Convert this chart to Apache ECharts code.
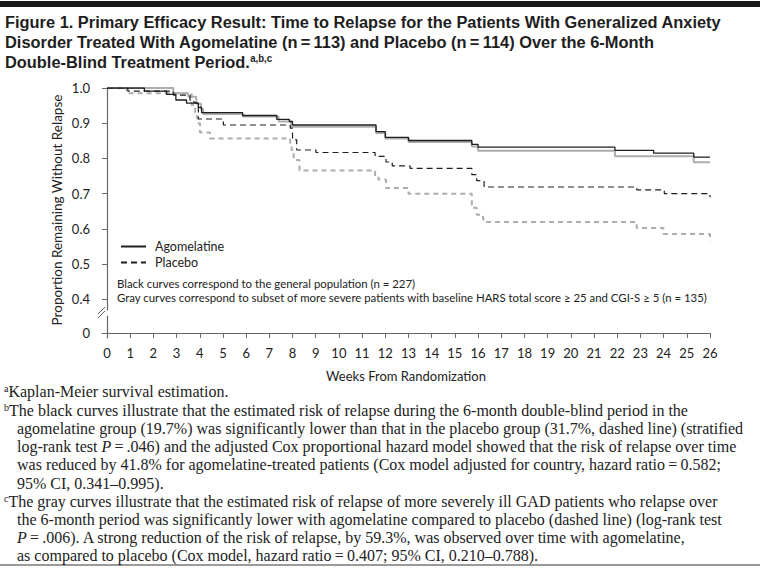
<!DOCTYPE html>
<html><head><meta charset="utf-8">
<script src="https://cdn.jsdelivr.net/npm/echarts@6/dist/echarts.min.js"></script>
<style>html,body{margin:0;padding:0;background:#fff}#c{width:768px;height:573px}</style>
</head><body><div id="c"></div>
<script>
// ---- tick labels ----
const weekTicks = [0,1,2,3,4,5,6,7,8,9,10,11,12,13,14,15,16,17,18,19,20,21,22,23,24,25,26];
const yTicks = [0.4,0.5,0.6,0.7,0.8,0.9,1.0];
const zeroTick = [0];

// ---- Kaplan-Meier step data (weeks, proportion without relapse) ----
// Agomelatine, general population (black solid)
const agoAllWeeks = [0,1.61,2.57,2.97,3.43,3.94,4.08,5.85,7.32,7.86,8.0,11.6,12.0,13.0,15.73,16.0,21.9,23.57,25.3,26];
const agoAllSurv  = [1.0,0.991,0.982,0.966,0.957,0.945,0.93,0.922,0.911,0.905,0.895,0.876,0.86,0.851,0.84,0.832,0.823,0.815,0.804,0.804];
// Placebo, general population (black dashed)
const plaAllWeeks = [0,0.9,2.86,3.58,3.75,3.94,5.02,7.9,8.0,8.18,9.01,11.56,12.03,12.3,13.07,15.73,15.94,16.26,22.84,24.03,26];
const plaAllSurv  = [1.0,0.991,0.98,0.965,0.958,0.912,0.895,0.886,0.853,0.824,0.817,0.806,0.79,0.779,0.772,0.754,0.737,0.719,0.711,0.70,0.69];
// Agomelatine, severe subset (gray solid)
const agoSevWeeks = [0,2.86,3.5,3.85,4.05,4.15,5.85,7.4,7.95,11.6,12.0,13.0,15.73,16.0,21.9,25.3,26];
const agoSevSurv  = [1.0,0.985,0.975,0.955,0.94,0.926,0.919,0.905,0.89,0.872,0.857,0.847,0.834,0.822,0.806,0.789,0.789];
// Placebo, severe subset (gray dashed)
const plaSevWeeks = [0,0.85,3.65,3.8,3.9,4.01,4.44,7.9,7.96,8.05,8.3,11.56,11.7,12.03,13.0,15.73,15.94,16.1,16.23,22.84,23.99,26];
const plaSevSurv  = [1.0,0.985,0.952,0.92,0.9,0.874,0.857,0.843,0.824,0.796,0.766,0.749,0.74,0.716,0.70,0.66,0.64,0.634,0.62,0.603,0.586,0.565];

// ---- texts ----
const titleLines = [
  'Figure 1. Primary Efficacy Result: Time to Relapse for the Patients With Generalized Anxiety',
  'Disorder Treated With Agomelatine (n\u2009=\u2009113) and Placebo (n\u2009=\u2009114) Over the 6-Month',
  'Double-Blind Treatment Period.'
];

function pairs(t, s) { return t.map((w, i) => [w, s[i]]); }

const SANS = 'Lato, "Open Sans", sans-serif';
const SERIF = '"Liberation Serif", "DejaVu Serif", serif';
const TITLEF = '"Liberation Sans", Arimo, sans-serif';
const INK = '#222';
const AXIS = '#666';

// horizontal condensing of the title font so it spans like the original
const mctx = document.createElement('canvas').getContext('2d');
mctx.font = 'bold 17px ' + TITLEF;
const titleScale = 717 / mctx.measureText(titleLines[0]).width;

const chart = echarts.init(document.getElementById('c'), null, { renderer: 'svg' });

function note(x, y, text) {
  return { type: 'text', x: x, y: y, silent: true, style: {
    text: text, fontFamily: SERIF, fontSize: 16, fill: INK, verticalAlign: 'middle',
    rich: { sup: { fontFamily: SERIF, fontSize: 10, fill: INK, verticalAlign: 'top' },
            i: { fontFamily: SERIF, fontSize: 16, fontStyle: 'italic', fill: INK } } } };
}
function titleLine(y, text) {
  return { type: 'text', x: 5, y: y, scaleX: titleScale, silent: true, style: {
    text: text, fontFamily: TITLEF, fontWeight: 'bold', fontSize: 17, fill: '#1e1e1e', verticalAlign: 'middle',
    rich: { sup: { fontFamily: TITLEF, fontWeight: 'bold', fontSize: 10, fill: '#1e1e1e', verticalAlign: 'top' } } } };
}

chart.setOption({
  animation: false,
  backgroundColor: '#fff',
  grid: [
    { left: 102, right: 58, top: 88, height: 222 },
    { left: 102, right: 58, top: 316, height: 22 }
  ],
  xAxis: [
    { gridIndex: 0, type: 'value', min: -0.215, max: 26, show: false },
    { gridIndex: 1, type: 'value', min: -0.215, max: 26,
      name: 'Weeks From Randomization', nameLocation: 'middle', nameGap: 31,
      nameTextStyle: { fontFamily: SANS, fontSize: 13, color: INK },
      axisLine: { show: true, lineStyle: { color: AXIS, width: 1.2 } },
      axisTick: { show: true, length: 5, customValues: weekTicks, lineStyle: { color: AXIS } },
      axisLabel: { customValues: weekTicks, margin: 8, fontFamily: SANS, fontSize: 13, color: INK },
      splitLine: { show: false } }
  ],
  yAxis: [
    { gridIndex: 0, type: 'value', min: 0.37, max: 1.0,
      axisLine: { show: true, lineStyle: { color: AXIS, width: 1.2 } },
      axisTick: { show: true, length: 5, customValues: yTicks, lineStyle: { color: AXIS } },
      axisLabel: { customValues: yTicks, margin: 12, fontFamily: SANS, fontSize: 13, color: INK,
                   formatter: v => v.toFixed(1) },
      splitLine: { show: false } },
    { gridIndex: 1, type: 'value', min: -0.05, max: 0.17,
      axisLine: { show: true, lineStyle: { color: AXIS, width: 1.2 } },
      axisTick: { show: true, length: 5, customValues: zeroTick, lineStyle: { color: AXIS } },
      axisLabel: { customValues: zeroTick, margin: 12, fontFamily: SANS, fontSize: 13, color: INK,
                   formatter: v => String(v) },
      splitLine: { show: false } }
  ],
  legend: {
    data: ['Agomelatine', 'Placebo'], orient: 'vertical', left: 115, top: 235,
    itemWidth: 25, itemHeight: 10, itemGap: 3, selectedMode: false,
    itemStyle: { opacity: 0 },
    textStyle: { fontFamily: SANS, fontSize: 12.5, color: INK, padding: [0, 0, 0, 4] }
  },
  series: [
    { name: 'Agomelatine (severe subset)', type: 'line', step: 'end', symbol: 'none',
      xAxisIndex: 0, yAxisIndex: 0, data: pairs(agoSevWeeks, agoSevSurv),
      lineStyle: { color: '#adadad', width: 2 }, itemStyle: { color: '#adadad' }, z: 1 },
    { name: 'Placebo (severe subset)', type: 'line', step: 'end', symbol: 'none',
      xAxisIndex: 0, yAxisIndex: 0, data: pairs(plaSevWeeks, plaSevSurv),
      lineStyle: { color: '#adadad', width: 2, type: [5, 4] }, itemStyle: { color: '#adadad' }, z: 1 },
    { name: 'Agomelatine', type: 'line', step: 'end', symbol: 'none',
      xAxisIndex: 0, yAxisIndex: 0, data: pairs(agoAllWeeks, agoAllSurv),
      lineStyle: { color: '#1e1e1e', width: 1.3 }, itemStyle: { color: '#1e1e1e' }, z: 2 },
    { name: 'Placebo', type: 'line', step: 'end', symbol: 'none',
      xAxisIndex: 0, yAxisIndex: 0, data: pairs(plaAllWeeks, plaAllSurv),
      lineStyle: { color: '#1e1e1e', width: 1.2, type: [6, 4] }, itemStyle: { color: '#1e1e1e' }, z: 2 }
  ],
  graphic: [
    { type: 'rect', silent: true, shape: { x: 0, y: 1, width: 760, height: 6 }, style: { fill: '#1a1a1a' } },
    { type: 'rect', silent: true, shape: { x: 0, y: 564, width: 760, height: 2 }, style: { fill: '#9a9a9a' } },
    titleLine(22, titleLines[0]),
    titleLine(42, titleLines[1]),
    titleLine(62, titleLines[2] + '{sup|a,b,c}'),
    { type: 'text', x: 57, y: 210, rotation: Math.PI / 2, silent: true, style: { text: 'Proportion Remaining Without Relapse',
      fontFamily: SANS, fontSize: 13.5, fill: INK, align: 'center', verticalAlign: 'middle' } },
    { type: 'polyline', silent: true, shape: { points: [[98, 314], [105, 307]] }, style: { stroke: AXIS, lineWidth: 1 } },
    { type: 'polyline', silent: true, shape: { points: [[98, 318], [105, 311]] }, style: { stroke: AXIS, lineWidth: 1 } },
    { type: 'text', x: 117, y: 283, silent: true, style: { text: 'Black curves correspond to the general population (n = 227)',
      fontFamily: SANS, fontSize: 11.4, fill: INK, verticalAlign: 'middle' } },
    { type: 'text', x: 117, y: 297, silent: true, style: { text: 'Gray curves correspond to subset of more severe patients with baseline HARS total score \u2265 25 and CGI-S \u2265 5 (n = 135)',
      fontFamily: SANS, fontSize: 11.4, fill: INK, verticalAlign: 'middle' } },
    note(4, 391, '{sup|a}Kaplan-Meier survival estimation.'),
    note(4, 410, '{sup|b}The black curves illustrate that the estimated risk of relapse during the 6-month double-blind period in the'),
    note(17, 428, 'agomelatine group (19.7%) was significantly lower than that in the placebo group (31.7%, dashed line) (stratified'),
    note(17, 446, 'log-rank test {i|P}\u2009=\u2009.046) and the adjusted Cox proportional hazard model showed that the risk of relapse over time'),
    note(17, 464, 'was reduced by 41.8% for agomelatine-treated patients (Cox model adjusted for country, hazard ratio\u2009=\u20090.582;'),
    note(17, 483, '95% CI, 0.341\u20130.995).'),
    note(4, 501, '{sup|c}The gray curves illustrate that the estimated risk of relapse of more severely ill GAD patients who relapse over'),
    note(17, 519, 'the 6-month period was significantly lower with agomelatine compared to placebo (dashed line) (log-rank test'),
    note(17, 537, '{i|P}\u2009=\u2009.006). A strong reduction of the risk of relapse, by 59.3%, was observed over time with agomelatine,'),
    note(17, 555, 'as compared to placebo (Cox model, hazard ratio\u2009=\u20090.407; 95% CI, 0.210\u20130.788).')
  ]
});
</script>
</body></html>
